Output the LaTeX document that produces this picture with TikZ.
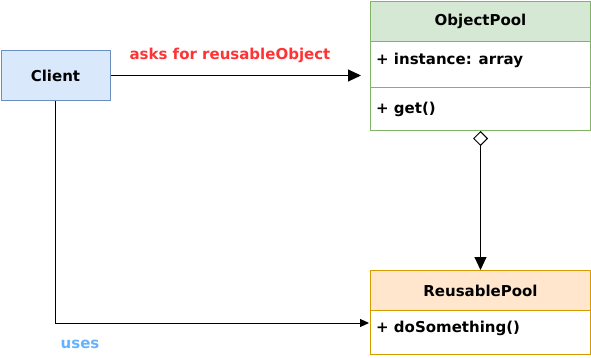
\documentclass[tikz,border=0pt]{standalone}
\usepackage{fontspec}
\setmainfont{DejaVu Sans}
\usetikzlibrary{arrows.meta}
\definecolor{cfill}{HTML}{DAE8FC}
\definecolor{cline}{HTML}{6C8EBF}
\definecolor{gfill}{HTML}{D5E8D4}
\definecolor{gline}{HTML}{82B366}
\definecolor{ofill}{HTML}{FFE6CC}
\definecolor{oline}{HTML}{D79B00}
\definecolor{redlbl}{HTML}{FF3333}
\definecolor{bluelbl}{HTML}{66B2FF}
\begin{document}
\begin{tikzpicture}[x=1pt,y=-1pt,
  every node/.style={font=\fontsize{15}{18}\selectfont\bfseries},
  box/.style={draw, line width=1pt, inner sep=0pt, anchor=north west, minimum width=220pt},
  attr/.style={anchor=west, inner sep=0pt},
  conn/.style={line width=1pt, black},
  bigtip/.style={-{Triangle[length=13pt,width=12pt]}}]
\useasboundingbox (0,0) rectangle (591,358);
% Client
\node[draw=cline, fill=cfill, line width=1pt, minimum width=109pt, minimum height=50pt, inner sep=0pt, anchor=north west] (client) at (0.5,50) {Client};
% ObjectPool
\node[box, draw=gline, minimum height=129pt] (op) at (370,1) {};
\node[box, draw=gline, fill=gfill, minimum height=40pt] (ophead) at (370,1) {ObjectPool};
\draw[gline, line width=1pt] (370,88) coordinate (opd1) -- (590,88) coordinate (opd2);
\node[attr] (opattr) at (376,60) {+ instance: array};
\node[attr] (opget) at (376,109) {+ get()};
% ReusablePool
\node[box, draw=oline, minimum height=84pt] (rp) at (370,270) {};
\node[box, draw=oline, fill=ofill, minimum height=40pt] (rphead) at (370,270) {ReusablePool};
\node[attr] (rpdo) at (376,328) {+ doSomething()};
% connectors
\draw[conn, bigtip, shorten >=9pt] (client.east) -- (client.east -| op.west);
\node[text=redlbl] (lbl1) at (230,55) {asks for reusableObject};
\draw[conn, {Diamond[open,length=15pt,width=15pt,line width=1pt]}-{Triangle[length=13pt,width=12pt]}] (op.south) -- (rphead.north);
\coordinate (corner) at (client.south |- 0,323);
\draw[conn, -{Triangle[length=9pt,width=8pt]}, shorten >=1pt] (client.south) -- (corner) -- (corner -| rp.west);
\node[text=bluelbl] (lbl2) at (80,344) {uses};
\end{tikzpicture}
\end{document}
